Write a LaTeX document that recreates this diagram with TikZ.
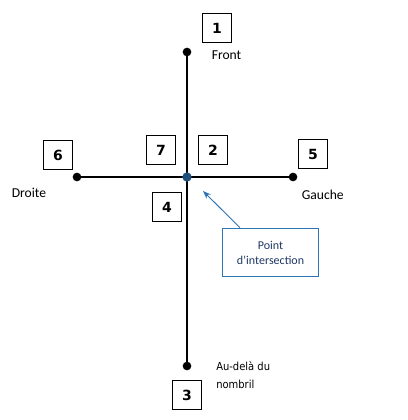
\documentclass[tikz,border=0pt]{standalone}
\usepackage{fontspec}
\setmainfont{Carlito}
\newfontfamily\numfont{DejaVu Sans}
\newfontfamily\aufont{DejaVu Sans Condensed}
\usetikzlibrary{arrows.meta}
\definecolor{ptblue}{HTML}{1F4E79}
\definecolor{arrblue}{HTML}{2E75B6}
\definecolor{txtblue}{HTML}{1F3864}
\tikzset{
  numbox/.style={draw=black, line width=0.8pt, minimum width=22pt, minimum height=21.5pt, inner sep=0pt, font=\numfont\bfseries\fontsize{10.5pt}{12pt}\selectfont},
  lbl/.style={inner sep=0pt, font=\fontsize{10.2pt}{12pt}\selectfont},
  axis/.style={line width=2pt, black},
  enddot/.style={circle, fill=black, inner sep=0pt, minimum size=6.5pt},
}
\begin{document}
\begin{tikzpicture}[x=0.75pt,y=-0.75pt]
\useasboundingbox (0,0) rectangle (407,420);
\fill[white] (0,0) rectangle (407,420);
% axes
\node[enddot] (top) at (187,52) {};
\node[enddot] (bot) at (187,366) {};
\node[enddot] (lft) at (77,177) {};
\node[enddot] (rgt) at (293,177) {};
\coordinate (c) at (187,177);
\draw[axis] (top.center) -- (bot.center);
\draw[axis] (lft.center) -- (rgt.center);
\node[circle, fill=ptblue, inner sep=0pt, minimum size=7pt] (ctr) at (c) {};
% number boxes
\node[numbox] (n1) at (217,28) {1};
\node[numbox] (n7) at (161,150) {7};
\node[numbox] (n2) at (213,150) {2};
\node[numbox] (n4) at (167,207) {4};
\node[numbox] (n6) at (58,155) {6};
\node[numbox] (n5) at (313,154) {5};
\node[numbox] (n3) at (187,395) {3};
% labels
\node[lbl, anchor=west] (front) at (211.5,55) {Front};
\node[lbl, anchor=west] (droite) at (11.5,192.5) {Droite};
\node[lbl, anchor=west] (gauche) at (301.5,195) {Gauche};
\node[inner sep=0pt, anchor=west, font=\aufont\fontsize{8.3pt}{10pt}\selectfont] (au1) at (216,366) {Au-delà du};
\node[inner sep=0pt, anchor=west, font=\aufont\fontsize{8.3pt}{10pt}\selectfont] (au2) at (216,384) {nombril};
% callout
\node[draw=arrblue, line width=0.7pt, minimum width=72.5pt, minimum height=36.5pt, inner sep=0pt, align=center, text=txtblue, font=\fontsize{9pt}{11.2pt}\selectfont] (pi) at (270.5,252.5) {Point\\d'intersection};
\coordinate (tip) at (203,191);
\draw[arrblue, line width=0.7pt, -{Stealth[length=6pt,width=4.5pt]}] (pi.north -| 240,0) -- (tip);
\end{tikzpicture}
\end{document}
